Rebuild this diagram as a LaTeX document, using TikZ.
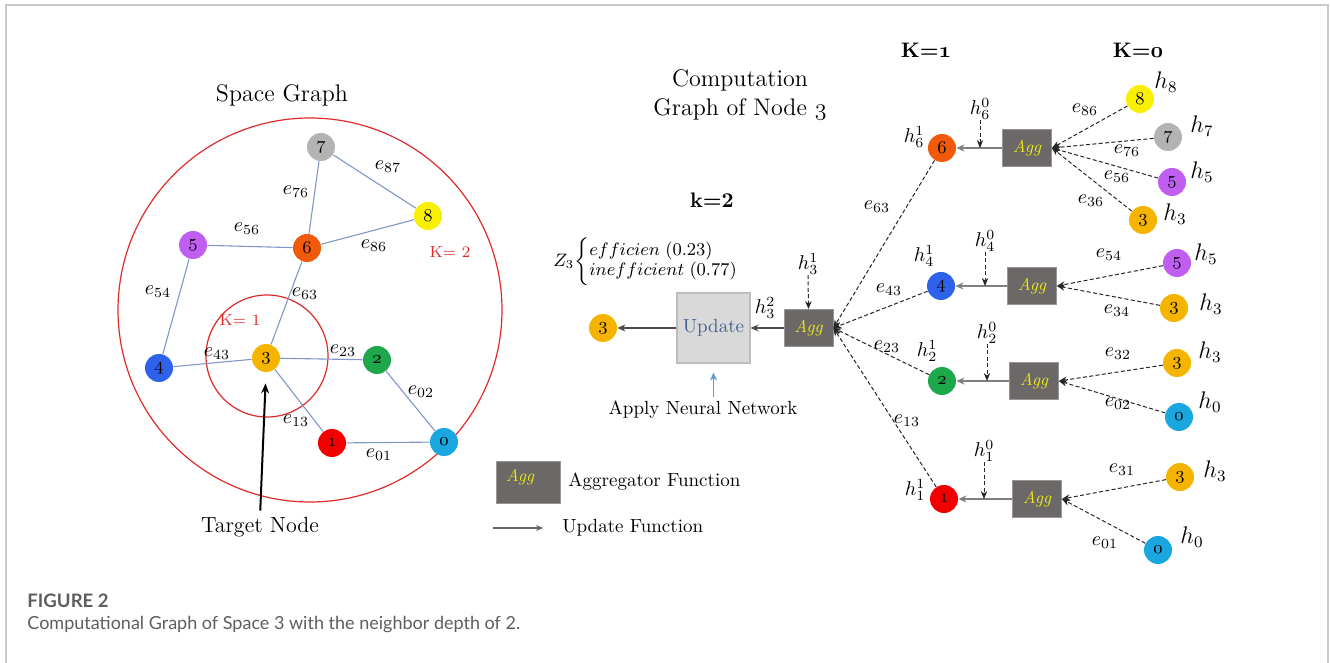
\documentclass[tikz,border=0pt]{standalone}
\usepackage{fontspec}
\newfontfamily\capfont{Lato}
\usetikzlibrary{arrows.meta}
\newcommand\osn[1]{{\usefont{OML}{cmm}{m}{it}#1}}
\newcommand\osnb[1]{{\usefont{OML}{cmm}{b}{it}#1}}
\definecolor{c0}{HTML}{1AA7E0}
\definecolor{c1}{HTML}{F20000}
\definecolor{c2}{HTML}{1DA84B}
\definecolor{c3}{HTML}{F5B400}
\definecolor{c4}{HTML}{2E62EB}
\definecolor{c5}{HTML}{BF5EF0}
\definecolor{c6}{HTML}{F05A0A}
\definecolor{c7}{HTML}{B3B3B3}
\definecolor{c8}{HTML}{F8F000}
\definecolor{edgeblue}{HTML}{8096C8}
\definecolor{kred}{HTML}{E02A2A}
\definecolor{agggray}{HTML}{6D6868}
\definecolor{aggyellow}{HTML}{EAEA10}
\definecolor{updfill}{HTML}{D9D9D9}
\definecolor{upddraw}{HTML}{BDBDBD}
\definecolor{updtext}{HTML}{44618F}
\definecolor{arrgray}{HTML}{7F7F7F}
\definecolor{nnblue}{HTML}{5B9BD5}
\definecolor{framegray}{HTML}{CACACA}
\definecolor{capgray}{HTML}{5E5E5E}
\begin{document}
\begin{tikzpicture}[x=0.5pt,y=-0.5pt,
  vnode/.style={circle, minimum size=14pt, inner sep=0pt, font=\fontsize{9.5}{10}\selectfont},
  gedge/.style={draw=edgeblue, line width=0.55pt},
  elab/.style={font=\fontsize{10}{11}\selectfont, inner sep=0pt},
  hlab/.style={font=\fontsize{10}{11}\selectfont, inner sep=0pt},
  hbig/.style={font=\fontsize{12}{13}\selectfont, inner sep=0pt},
  aggbox/.style={rectangle, fill=agggray, draw=agggray!70!white, line width=0.4pt,
    minimum width=24.5pt, minimum height=18.5pt, inner sep=0pt,
    font=\fontsize{8.5}{9}\selectfont\itshape, text=aggyellow},
  updarrow/.style={draw=arrgray, line width=1pt, -{Stealth[length=4pt,width=3.5pt]}},
  dasharr/.style={draw=black!85, line width=0.5pt, dash pattern=on 2pt off 1.2pt,
    -{Stealth[length=4pt,width=3.2pt]}},
  title/.style={font=\fontsize{12}{14.5}\selectfont, inner sep=0pt, align=center},
  klab/.style={font=\fontsize{10.5}{12}\selectfont\bfseries, inner sep=0pt},
]
\useasboundingbox (0,0) rectangle (1330,663);
% frame
\draw[framegray, line width=1pt] (6,663) -- (6,5) -- (1328,5) -- (1328,663);

% ---------------- Space graph ----------------
\node[title] (sg) at (282,95) {Space Graph};
\draw[kred, line width=0.6pt] (310,310) circle[radius=96pt];
\draw[kred, line width=0.6pt] (267,356) circle[radius=30.5pt];
\node[text=kred, font=\fontsize{8}{9}\selectfont, inner sep=0pt] (k2) at (450,252) {K= 2};
\node[text=kred, font=\fontsize{8}{9}\selectfont, inner sep=0pt] (k1) at (240,320) {K= 1};

\node[vnode, fill=c7] (n7) at (321,147) {\osn{7}};
\node[vnode, fill=c8] (n8) at (428,216) {\osn{8}};
\node[vnode, fill=c5] (n5) at (193,245) {\osn{5}};
\node[vnode, fill=c6] (n6) at (307,248) {\osn{6}};
\node[vnode, fill=c4] (n4) at (159,368) {\osn{4}};
\node[vnode, fill=c3] (n3) at (266,358) {\osn{3}};
\node[vnode, fill=c2] (n2) at (377,360) {\osn{2}};
\node[vnode, fill=c1] (n1) at (332,443) {\osn{1}};
\node[vnode, fill=c0] (n0) at (444,442) {\osn{0}};

\draw[gedge] (n7) -- (n6);
\draw[gedge] (n7) -- (n8);
\draw[gedge] (n8) -- (n6);
\draw[gedge] (n5) -- (n6);
\draw[gedge] (n5) -- (n4);
\draw[gedge] (n6) -- (n3);
\draw[gedge] (n4) -- (n3);
\draw[gedge] (n3) -- (n2);
\draw[gedge] (n3) -- (n1);
\draw[gedge] (n2) -- (n0);
\draw[gedge] (n1) -- (n0);

\node[elab] (l87) at (388,167) {$e_{87}$};
\node[elab] (l76) at (296,192) {$e_{76}$};
\node[elab] (l56) at (247,229) {$e_{56}$};
\node[elab] (l86) at (374,246) {$e_{86}$};
\node[elab] (l54) at (158,292) {$e_{54}$};
\node[elab] (l63) at (305,294) {$e_{63}$};
\node[elab] (l43) at (217,354) {$e_{43}$};
\node[elab] (l23) at (343,351) {$e_{23}$};
\node[elab] (l02) at (421,392) {$e_{02}$};
\node[elab] (l13) at (296,421) {$e_{13}$};
\node[elab] (l01) at (379,455) {$e_{01}$};

\node[font=\fontsize{11}{13}\selectfont, inner sep=0pt] (target) at (260,527) {Target Node};
\draw[black, line width=1pt, -{Stealth[length=5pt,width=4pt]}, shorten <=3pt, shorten >=5.5pt] (target.north) -- (n3.south);

% ---------------- Computation graph (middle) ----------------
\node[title] (cg) at (740,95) {Computation\\Graph of Node \osn{3}};
\node[klab] (kk2) at (712,200) {k=2};
\node[anchor=west, font=\fontsize{9}{10}\selectfont, inner sep=0pt] (z3) at (553,262)
  {$Z_3\!\left\{\begin{array}{@{}l@{}} efficien\;(0.23)\\ inefficient\;(0.77)\end{array}\right.$};

\node[vnode, fill=c3] (o3) at (603,328) {\osn{3}};
\node[rectangle, fill=updfill, draw=upddraw, line width=0.6pt, minimum width=36.5pt, minimum height=35pt,
  inner sep=0pt, text=updtext, font=\fontsize{9.5}{11}\selectfont] (upd) at (713.5,328) {Update};
\node[aggbox] (magg) at (808.5,328) {Agg};
\draw[updarrow, draw=black!70, line width=0.8pt] (upd.west) -- (o3.east);
\draw[updarrow, draw=black!70, line width=0.8pt] (magg.west) -- (upd.east);
\node[hlab] (h32) at (765,308) {$h_3^2$};
\node[hlab] (h31) at (808,264) {$h_3^1$};
\draw[dasharr] (h31.south) -- (magg.north);
\node[font=\fontsize{9.5}{11}\selectfont, inner sep=0pt] (apply) at (703,410) {Apply Neural Network};
\draw[nnblue, line width=0.8pt, -{Stealth[length=4pt,width=3.5pt]}, shorten <=2pt, shorten >=4.5pt]
  (apply.north -| upd.south) -- (upd.south);

% legend
\node[aggbox, minimum width=32pt, minimum height=21pt] (lagg) at (528,482) {};
\node[font=\fontsize{8.5}{9}\selectfont\itshape, text=aggyellow, inner sep=0pt] (laggt) at (520,477) {Agg};
\node[anchor=west, font=\fontsize{9.5}{11}\selectfont, inner sep=0pt] (laggd) at (568,482) {Aggregator Function};
\coordinate (la1) at (493,528);
\coordinate (la2) at (543,528);
\draw[draw=black!60, line width=0.6pt, -{Stealth[length=3.5pt,width=3pt]}] (la1) -- (la2);
\node[anchor=west, font=\fontsize{9.5}{11}\selectfont, inner sep=0pt] (lupd) at (562,528) {Update Function};

% ---------------- Right side ----------------
\node[klab] (kk1) at (926,50) {K=\osnb{1}};
\node[klab] (kk0) at (1138,50) {K=\osnb{0}};

% row 6
\node[vnode, fill=c6] (c6n) at (942,148) {\osn{6}};
\node[aggbox] (a6) at (1027,148) {Agg};
\draw[updarrow] (a6.west) -- (c6n.east);
\node[hlab] (h61) at (914,137) {$h_6^1$};
\node[hlab] (h60) at (980,109) {$h_6^0$};
\draw[dasharr] (h60.south) -- (h60.south |- c6n.center);
\node[vnode, fill=c8] (r68) at (1140,99) {\osn{8}};
\node[vnode, fill=c7] (r67) at (1168,137) {\osn{7}};
\node[vnode, fill=c5] (r65) at (1172,182) {\osn{5}};
\node[vnode, fill=c3] (r63) at (1143,220) {\osn{3}};
\node[hbig] (hr68) at (1166,82) {$h_8$};
\node[hbig] (hr67) at (1202,126) {$h_7$};
\node[hbig] (hr65) at (1202,172) {$h_5$};
\node[hbig] (hr63) at (1175,214) {$h_3$};
\draw[dasharr] (r68) -- (a6.east);
\draw[dasharr] (r67) -- (a6.east);
\draw[dasharr] (r65) -- (a6.east);
\draw[dasharr] (r63) -- (a6.east);
\node[elab] (lr86) at (1085,110) {$e_{86}$};
\node[elab] (lr76) at (1127,151) {$e_{76}$};
\node[elab] (lr56) at (1117,177) {$e_{56}$};
\node[elab] (lr36) at (1091,201) {$e_{36}$};

% row 4
\node[vnode, fill=c4] (c4n) at (941,286) {\osn{4}};
\node[aggbox] (a4) at (1032,286) {Agg};
\draw[updarrow] (a4.west) -- (c4n.east);
\node[hlab] (h41) at (924,256) {$h_4^1$};
\node[hlab] (h40) at (985,241) {$h_4^0$};
\draw[dasharr] (h40.south) -- (h40.south |- c4n.center);
\node[vnode, fill=c5] (r45) at (1177,263) {\osn{5}};
\node[vnode, fill=c3] (r43) at (1174,308) {\osn{3}};
\node[hbig] (hr45) at (1206,254) {$h_5$};
\node[hbig] (hr43) at (1211,304) {$h_3$};
\draw[dasharr] (r45) -- (a4.east);
\draw[dasharr] (r43) -- (a4.east);
\node[elab] (lr54) at (1109,255) {$e_{54}$};
\node[elab] (lr34) at (1117,311) {$e_{34}$};

% row 2
\node[vnode, fill=c2] (c2n) at (942,381) {\osn{2}};
\node[aggbox] (a2) at (1034,381) {Agg};
\draw[updarrow] (a2.west) -- (c2n.east);
\node[hlab] (h21) at (927,351) {$h_2^1$};
\node[hlab] (h20) at (987,333) {$h_2^0$};
\draw[dasharr] (h20.south) -- (h20.south |- c2n.center);
\node[vnode, fill=c3] (r23) at (1177,363) {\osn{3}};
\node[vnode, fill=c0] (r20) at (1179,417) {\osn{0}};
\node[hbig] (hr23) at (1210,352) {$h_3$};
\node[hbig] (hr20) at (1210,402) {$h_0$};
\draw[dasharr] (r23) -- (a2.east);
\draw[dasharr] (r20) -- (a2.east);
\node[elab] (lr32) at (1118,354) {$e_{32}$};
\node[elab] (lr02) at (1118,404) {$e_{02}$};

% row 1
\node[vnode, fill=c1] (c1n) at (944,499) {\osn{1}};
\node[aggbox] (a1) at (1037,499) {Agg};
\draw[updarrow] (a1.west) -- (c1n.east);
\node[hlab] (h11) at (915,490) {$h_1^1$};
\node[hlab] (h10) at (984,451) {$h_1^0$};
\draw[dasharr] (h10.south) -- (h10.south |- c1n.center);
\node[vnode, fill=c3] (r13) at (1180,477) {\osn{3}};
\node[vnode, fill=c0] (r10) at (1158,550) {\osn{0}};
\node[hbig] (hr13) at (1215,471) {$h_3$};
\node[hbig] (hr10) at (1192,537) {$h_0$};
\draw[dasharr] (r13) -- (a1.east);
\draw[dasharr] (r10) -- (a1.east);
\node[elab] (lr31) at (1122,470) {$e_{31}$};
\node[elab] (lr01) at (1105,543) {$e_{01}$};

% K=1 nodes into main Agg
\draw[dasharr] (c6n) -- (magg.east);
\draw[dasharr] (c4n) -- (magg.east);
\draw[dasharr] (c2n) -- (magg.east);
\draw[dasharr] (c1n) -- (magg.east);
\node[elab] (lc63) at (877,207) {$e_{63}$};
\node[elab] (lc43) at (889,290) {$e_{43}$};
\node[elab] (lc23) at (887,347) {$e_{23}$};
\node[elab] (lc13) at (907,421) {$e_{13}$};

% ---------------- Caption ----------------
\node[anchor=west, inner sep=0pt, text=capgray, font=\capfont\bfseries\fontsize{9.3}{11}\selectfont] (figlab) at (27,601) {FIGURE 2};
\node[anchor=west, inner sep=0pt, text=capgray, font=\capfont\fontsize{9}{11}\selectfont] (caption) at (27,625) {Computational Graph of Space 3 with the neighbor depth of 2.};
\end{tikzpicture}
\end{document}
